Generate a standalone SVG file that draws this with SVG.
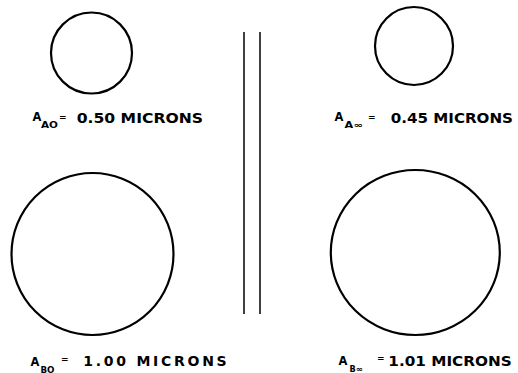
<svg xmlns="http://www.w3.org/2000/svg" width="518" height="373" viewBox="0 0 518 373">
<style>
.c{fill:none;stroke:#000;stroke-width:2.2}
.t{font-family:"DejaVu Sans","Liberation Sans",Arial,sans-serif;font-weight:bold;fill:#000}
.m{font-size:14px}
.a{font-size:11.5px}
.s{font-size:8.5px}
.e{font-size:9px}
.d{stroke:#000;stroke-width:1.5}
</style>
<rect width="518" height="373" fill="#fff"/>
<g id="divider">
<line class="d" x1="244" y1="32" x2="244" y2="314"/>
<line class="d" x1="260" y1="32" x2="260" y2="314"/>
</g>
<g id="top-left">
<circle class="c" cx="91.5" cy="53" r="40.5"/>
<text class="t a" x="32.5" y="120.5">A</text>
<text class="t s" x="41" y="128" textLength="17" lengthAdjust="spacingAndGlyphs">AO</text>
<text class="t e" x="59" y="119.5">=</text>
<text class="t m" x="76.7" y="123" textLength="126.3" lengthAdjust="spacingAndGlyphs">0.50 MICRONS</text>
</g>
<g id="top-right">
<circle class="c" cx="414" cy="46" r="39"/>
<text class="t a" x="334.5" y="120.5">A</text>
<text class="t s" x="344.5" y="127.5" textLength="18" lengthAdjust="spacingAndGlyphs">A∞</text>
<text class="t e" x="368" y="119.5">=</text>
<text class="t m" x="390.7" y="123" textLength="122.3" lengthAdjust="spacingAndGlyphs">0.45 MICRONS</text>
</g>
<g id="bottom-left">
<circle class="c" cx="92.5" cy="254" r="81"/>
<text class="t a" x="30.5" y="366">A</text>
<text class="t s" x="40.5" y="372.5" textLength="14" lengthAdjust="spacingAndGlyphs">BO</text>
<text class="t e" x="61" y="361.5">=</text>
<text class="t m" x="83.3" y="366" textLength="143.4" lengthAdjust="spacing">1.00 MICRONS</text>
</g>
<g id="bottom-right">
<ellipse class="c" cx="415.3" cy="252.5" rx="84.5" ry="82.5"/>
<text class="t a" x="338.5" y="365">A</text>
<text class="t s" x="349.5" y="371.5" textLength="13" lengthAdjust="spacingAndGlyphs">B∞</text>
<text class="t e" x="377" y="360.5">=</text>
<text class="t m" x="388.3" y="366" textLength="123.4" lengthAdjust="spacingAndGlyphs">1.01 MICRONS</text>
</g>
</svg>
